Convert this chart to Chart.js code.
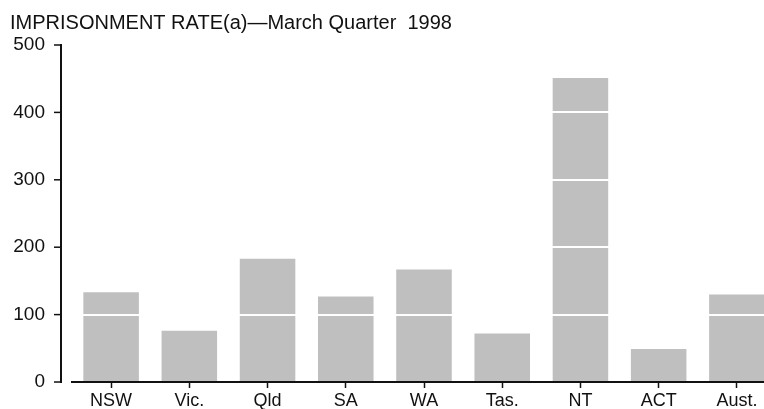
<!DOCTYPE html>
<html>
<head>
<meta charset="utf-8">
<script src="https://cdn.jsdelivr.net/npm/chart.js@4.4.0/dist/chart.umd.min.js"></script>
<style>
  html, body { margin: 0; padding: 0; background: #fff; overflow: hidden; width: 764px; height: 409px; }
  #wrap { width: 764px; height: 409px; overflow: hidden; }
</style>
</head>
<body>
<div id="wrap"><canvas id="chart" width="776" height="409"></canvas></div>
<script>
// data
const states = ['NSW', 'Vic.', 'Qld', 'SA', 'WA', 'Tas.', 'NT', 'ACT', 'Aust.'];
const rates = [133, 76, 183, 127, 167, 72, 451, 49, 130];
const yTicks = [0, 100, 200, 300, 400, 500];

const FONT = "'Liberation Sans', Arial, sans-serif";
Chart.defaults.font.family = FONT;
Chart.defaults.color = '#111';

// y axis line + ticks sit a bit left of where the x axis starts
const yAxisLine = {
  id: 'yAxisLine',
  afterDraw(chart) {
    const ctx = chart.ctx;
    const y = chart.scales.y;
    const x = chart.chartArea.left - 11;
    ctx.save();
    ctx.strokeStyle = '#111';
    ctx.lineWidth = 2;
    ctx.beginPath();
    ctx.moveTo(x, y.getPixelForValue(500) - 1);
    ctx.lineTo(x, y.getPixelForValue(0) + 1);
    ctx.stroke();
    ctx.lineWidth = 1.5;
    yTicks.forEach(v => {
      const py = y.getPixelForValue(v);
      ctx.beginPath();
      ctx.moveTo(x - 7, py);
      ctx.lineTo(x, py);
      ctx.stroke();
    });
    ctx.restore();
  }
};

new Chart(document.getElementById('chart'), {
  type: 'bar',
  plugins: [yAxisLine],
  data: {
    labels: states,
    datasets: [{
      data: rates,
      backgroundColor: '#bfbfbf',
      borderWidth: 0,
      categoryPercentage: 1,
      barPercentage: 0.71
    }]
  },
  options: {
    responsive: false,
    animation: false,
    layout: { padding: { left: 10, right: 0, top: 0, bottom: 0 } },
    plugins: {
      legend: { display: false },
      tooltip: { enabled: false },
      title: {
        display: true,
        text: 'IMPRISONMENT RATE(a)\u2014March Quarter  1998',
        align: 'start',
        color: '#111',
        font: { size: 20, weight: 'normal', family: FONT },
        padding: { top: 11, bottom: 10 }
      }
    },
    scales: {
      x: {
        border: { display: true, color: '#111', width: 2 },
        grid: {
          display: true,
          drawOnChartArea: false,
          offset: false,
          tickLength: 6,
          tickColor: '#111',
          tickWidth: 1.5
        },
        ticks: { font: { size: 18 }, padding: 2, color: '#111' },
        afterFit(scale) { scale.height = 27; }
      },
      y: {
        min: 0,
        max: 500,
        border: { display: false },
        grid: {
          z: 1,
          drawTicks: true,
          tickLength: 25,
          tickColor: 'rgba(0,0,0,0)',
          lineWidth: 2,
          color: ctx => (ctx.tick && ctx.tick.value === 0) ? 'rgba(0,0,0,0)' : '#ffffff'
        },
        ticks: { stepSize: 100, font: { size: 19 }, padding: 2, color: '#111' },
        afterFit(scale) { scale.width = 62; }
      }
    }
  }
});
</script>
</body>
</html>
